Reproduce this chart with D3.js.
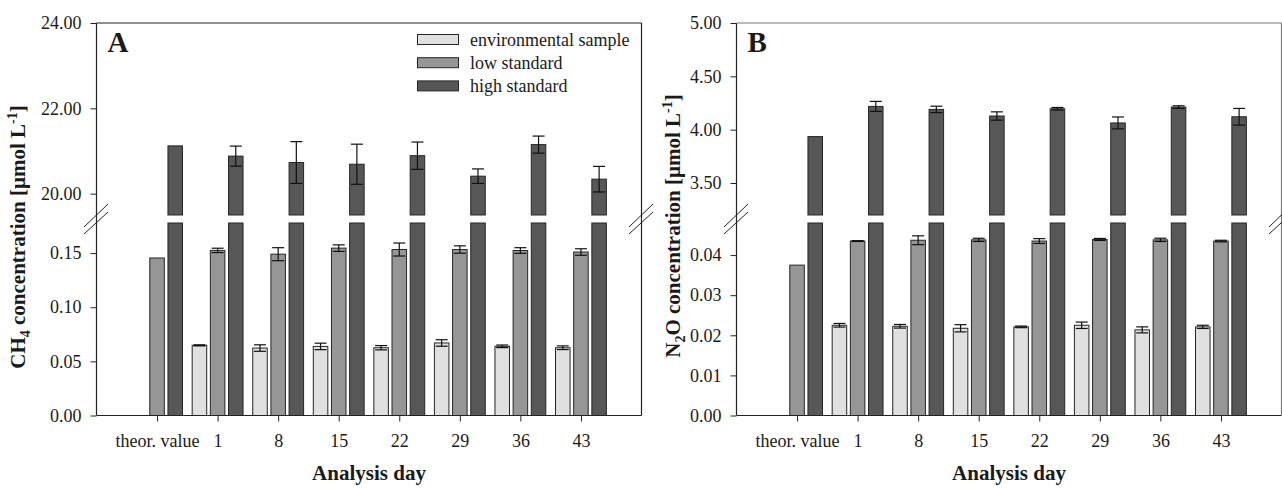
<!DOCTYPE html>
<html>
<head>
<meta charset="utf-8">
<script src="https://cdn.jsdelivr.net/npm/d3@7"></script>
<style>
  html, body { margin: 0; padding: 0; background: #fff; }
  svg { display: block; }
  text { font-family: "Liberation Serif", "Times New Roman", serif; fill: #1a1a1a; }
</style>
</head>
<body>
<svg id="chart" width="1282" height="489"></svg>
<script>
// ---------------- DATA ----------------
const categories = ["theor. value", "1", "8", "15", "22", "29", "36", "43"];
const seriesNames = ["environmental sample", "low standard", "high standard"];

// Panel A: CH4
const ch4Env      = [null, 0.0648, 0.0623, 0.0638, 0.0626, 0.0670, 0.0639, 0.0626];
const ch4EnvErr   = [null, 0.0005, 0.0030, 0.0030, 0.0020, 0.0030, 0.0012, 0.0017];
const ch4Low      = [0.1455, 0.1525, 0.1490, 0.1546, 0.1533, 0.1533, 0.1524, 0.1510];
const ch4LowErr   = [null, 0.0020, 0.0060, 0.0030, 0.0060, 0.0034, 0.0026, 0.0030];
const ch4High     = [21.12, 20.88, 20.73, 20.69, 20.89, 20.41, 21.15, 20.34];
const ch4HighErr  = [null, 0.235, 0.49, 0.47, 0.32, 0.17, 0.20, 0.30];

// Panel B: N2O
const n2oEnv      = [null, 0.0225, 0.02225, 0.02175, 0.0221, 0.0225, 0.02135, 0.0221];
const n2oEnvErr   = [null, 0.00045, 0.00045, 0.0009, 0.0002, 0.0008, 0.00075, 0.0004];
const n2oLow      = [0.0375, 0.0435, 0.0437, 0.0438, 0.0435, 0.0439, 0.0438, 0.0435];
const n2oLowErr   = [null, 0.0001, 0.0011, 0.0004, 0.0006, 0.00025, 0.0004, 0.0002];
const n2oHigh     = [3.935, 4.218, 4.19, 4.128, 4.196, 4.063, 4.212, 4.121];
const n2oHighErr  = [null, 0.047, 0.030, 0.039, 0.012, 0.056, 0.012, 0.078];

// Axis ticks
const ch4UpperTicks = [20, 22, 24];
const ch4LowerTicks = [0, 0.05, 0.10, 0.15];
const n2oUpperTicks = [3.5, 4.0, 4.5, 5.0];
const n2oLowerTicks = [0, 0.01, 0.02, 0.03, 0.04];

// ---------------- STYLE / LAYOUT ----------------
const colors = ["#e0e0e0", "#969696", "#575757"];
const strokeCol = "#262626";
const svg = d3.select("#chart");

const topY = 23, upperBottom = 215, lowerTop = 223, baseY = 415.5;
const breakC = 219;

function drawPanel(cfg) {
  const g = svg.append("g");
  const x = d3.scaleLinear().domain([0, 9]).range([cfg.left, cfg.right]);
  const yU = d3.scaleLinear().domain(cfg.upperDomain).range([upperBottom, topY]);
  const yL = d3.scaleLinear().domain(cfg.lowerDomain).range([baseY, lowerTop]);
  const bw = x(0.24) - x(0);
  const offs = [-0.3, 0, 0.3];

  const series = [
    {vals: cfg.env, errs: cfg.envErr, seg: "lower"},
    {vals: cfg.low, errs: cfg.lowErr, seg: "lower"},
    {vals: cfg.high, errs: cfg.highErr, seg: "upper"}
  ];

  series.forEach((s, si) => {
    s.vals.forEach((v, i) => {
      if (v == null) return;
      const cx = x(i + 1 + offs[si]);
      if (s.seg === "lower") {
        g.append("rect")
          .attr("x", cx - bw / 2).attr("y", yL(v))
          .attr("width", bw).attr("height", yL(0) - yL(v))
          .attr("fill", colors[si]).attr("stroke", strokeCol).attr("stroke-width", 1);
      } else {
        // lower segment: full height (broken)
        g.append("rect")
          .attr("x", cx - bw / 2).attr("y", lowerTop)
          .attr("width", bw).attr("height", yL(0) - lowerTop)
          .attr("fill", colors[si]).attr("stroke", strokeCol).attr("stroke-width", 1);
        g.append("rect")
          .attr("x", cx - bw / 2).attr("y", yU(v))
          .attr("width", bw).attr("height", upperBottom - yU(v))
          .attr("fill", colors[si]).attr("stroke", strokeCol).attr("stroke-width", 1);
      }
      const e = s.errs[i];
      if (e != null) {
        const ys = s.seg === "lower" ? yL : yU;
        const y1 = ys(v + e), y2 = ys(v - e);
        const cw = 6;
        g.append("line").attr("x1", cx).attr("x2", cx).attr("y1", y1).attr("y2", y2)
          .attr("stroke", "#111").attr("stroke-width", 1.2);
        [y1, y2].forEach(yy => {
          g.append("line").attr("x1", cx - cw).attr("x2", cx + cw).attr("y1", yy).attr("y2", yy)
            .attr("stroke", "#111").attr("stroke-width", 1.2);
        });
      }
    });
  });

  // Y axes (left)
  const axU = g.append("g").attr("transform", `translate(${cfg.left},0)`)
    .call(d3.axisLeft(yU).tickValues(cfg.upperTicks).tickFormat(d3.format(".2f")).tickSize(6).tickPadding(9));
  const axL = g.append("g").attr("transform", `translate(${cfg.left},0)`)
    .call(d3.axisLeft(yL).tickValues(cfg.lowerTicks).tickFormat(d3.format(".2f")).tickSize(6).tickPadding(9));
  [axU, axL].forEach(a => {
    a.select(".domain").remove();
    a.selectAll("line").attr("stroke", "#222");
    a.selectAll("text").attr("font-family", "Liberation Serif").attr("font-size", 18).attr("fill", "#1a1a1a");
  });

  // X axis
  const axX = g.append("g").attr("transform", `translate(0,${baseY})`)
    .call(d3.axisBottom(x).tickValues(d3.range(1, 9)).tickFormat(d => categories[d - 1]).tickSize(6).tickPadding(13));
  axX.select(".domain").remove();
  axX.selectAll("line").attr("stroke", "#222");
  axX.selectAll("text").attr("font-family", "Liberation Serif").attr("font-size", 18).attr("fill", "#1a1a1a");

  // Frame
  g.append("line").attr("x1", cfg.left).attr("x2", cfg.left).attr("y1", topY).attr("y2", baseY)
    .attr("stroke", "#222").attr("stroke-width", 1.2);
  g.append("line").attr("x1", cfg.left).attr("x2", cfg.right).attr("y1", baseY).attr("y2", baseY)
    .attr("stroke", "#222").attr("stroke-width", 1.2);
  g.append("line").attr("x1", cfg.left).attr("x2", cfg.right).attr("y1", topY).attr("y2", topY)
    .attr("stroke", cfg.frameCol).attr("stroke-width", 1.2);
  g.append("line").attr("x1", cfg.right).attr("x2", cfg.right).attr("y1", topY).attr("y2", baseY)
    .attr("stroke", cfg.frameCol).attr("stroke-width", 1.2);

  // Break marks
  [cfg.left, cfg.right].forEach(ax => {
    [[-12.5, 227, 11.5, 204], [-12.5, 234, 11.5, 212]].forEach(p => {
      g.append("line").attr("x1", ax + p[0]).attr("y1", p[1]).attr("x2", ax + p[2]).attr("y2", p[3])
        .attr("stroke", "#222").attr("stroke-width", 1);
    });
  });

  // Panel letter
  g.append("text").attr("x", cfg.left + 11).attr("y", 51.5)
    .attr("font-size", 29).attr("font-weight", "bold").text(cfg.letter);

  // X title
  g.append("text").attr("x", (cfg.left + cfg.right) / 2).attr("y", 480)
    .attr("text-anchor", "middle").attr("font-size", 21).attr("font-weight", "bold").text("Analysis day");

  // Y title
  const yt = g.append("text")
    .attr("transform", `translate(${cfg.ytX},${cfg.ytY}) rotate(-90)`)
    .attr("text-anchor", "middle").attr("font-size", 21).attr("font-weight", "bold");
  yt.append("tspan").text(cfg.ytA);
  yt.append("tspan").attr("font-size", 14).attr("dy", 5).text(cfg.ytSub);
  yt.append("tspan").attr("dy", -5).text(cfg.ytB);
  yt.append("tspan").attr("font-size", 14).attr("dy", -8).text("-1");
  yt.append("tspan").attr("dy", 8).text("]");
}

drawPanel({
  left: 96.5, right: 641.5, letter: "A", frameCol: "#222",
  upperDomain: [19.5, 24], lowerDomain: [0, 0.1778],
  upperTicks: ch4UpperTicks, lowerTicks: ch4LowerTicks,
  env: ch4Env, envErr: ch4EnvErr, low: ch4Low, lowErr: ch4LowErr, high: ch4High, highErr: ch4HighErr,
  ytX: 25, ytY: 237, ytA: "CH", ytSub: "4", ytB: " concentration [µmol L"
});
drawPanel({
  left: 736.5, right: 1281.5, letter: "B", frameCol: "#777",
  upperDomain: [3.2, 5.0], lowerDomain: [0, 0.048],
  upperTicks: n2oUpperTicks, lowerTicks: n2oLowerTicks,
  env: n2oEnv, envErr: n2oEnvErr, low: n2oLow, lowErr: n2oLowErr, high: n2oHigh, highErr: n2oHighErr,
  ytX: 680, ytY: 226, ytA: "N", ytSub: "2", ytB: "O concentration [µmol L"
});

// Legend (panel A)
const leg = svg.append("g");
seriesNames.forEach((name, i) => {
  const cy = 39.5 + i * 23.2;
  leg.append("rect").attr("x", 417.5).attr("y", cy - 5).attr("width", 41).attr("height", 10)
    .attr("fill", colors[i]).attr("stroke", strokeCol).attr("stroke-width", 1);
  leg.append("text").attr("x", 470).attr("y", cy + 6.2).attr("font-size", 18).text(name);
});
</script>
</body>
</html>
